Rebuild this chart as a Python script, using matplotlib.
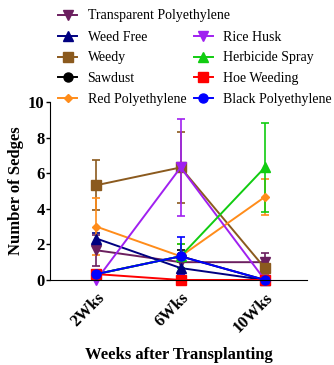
import numpy as np
import matplotlib.pyplot as plt
from matplotlib.lines import Line2D

plt.rcParams['font.family'] = ['Liberation Serif', 'DejaVu Serif']

# Weeks after transplanting
weeks = ['2Wks', '6Wks', '10Wks']

# mean number of sedges and error bars for each treatment
transparent = [1.67, 1.0, 1.0]
transparent_err = [0.88, 0.0, 0.5]
weed_free = [2.33, 0.67, 0.0]
weed_free_err = [0.33, 0.33, 0.0]
weedy = [5.33, 6.33, 0.67]
weedy_err = [1.4, 2.0, 0.33]
sawdust = [0.33, 1.33, 0.0]
sawdust_err = [0.0, 0.33, 0.0]
red_poly = [3.0, 1.33, 4.67]
red_poly_err = [1.6, 0.67, 1.0]
rice_husk = [0.0, 6.33, 0.0]
rice_husk_err = [0.0, 2.73, 0.0]
herbicide = [0.33, 1.33, 6.33]
herbicide_err = [0.0, 0.67, 2.5]
hoe = [0.33, 0.0, 0.0]
hoe_err = [0.0, 0.0, 0.0]
black_poly = [0.33, 1.33, 0.0]
black_poly_err = [0.0, 1.07, 0.0]

series = [
    ('Transparent Polyethylene', transparent, transparent_err, '#6B1F5F', 'v'),
    ('Weed Free', weed_free, weed_free_err, '#000080', '^'),
    ('Weedy', weedy, weedy_err, '#8B5A1E', 's'),
    ('Sawdust', sawdust, sawdust_err, 'black', 'o'),
    ('Red Polyethylene', red_poly, red_poly_err, '#FF8C1A', 'D'),
    ('Rice Husk', rice_husk, rice_husk_err, '#A020F0', 'v'),
    ('Herbicide Spray', herbicide, herbicide_err, '#11CC11', '^'),
    ('Hoe Weeding', hoe, hoe_err, '#FF0000', 's'),
    ('Black Polyethylene', black_poly, black_poly_err, '#0000FF', 'o'),
]

fig = plt.figure(figsize=(3.34, 3.65), dpi=100)
ax = fig.add_axes([0.15, 0.233, 0.769, 0.487])
x = np.arange(len(weeks))

handles = []
for name, vals, err, col, mk in series:
    ms = 4.5 if mk == 'D' else 6.5
    eb = ax.errorbar(x, vals, yerr=err, color=col, marker=mk, ms=ms, lw=1.4,
                     capsize=3, elinewidth=1.2, capthick=1.2)
    eb.lines[0].set_clip_on(False)
    handles.append(Line2D([], [], color=col, marker=mk, ms=ms, lw=1.4, label=name))

leg_kw = dict(frameon=False, fontsize=10, handlelength=1.35, handletextpad=0.75,
              labelspacing=0.56, borderaxespad=0.0, borderpad=0.0)
# first entry on its own row, the rest in two columns below it
fig.legend(handles=handles[:1], loc='upper left',
           bbox_to_anchor=(0.175, 0.974), **leg_kw)
fig.legend(handles=handles[1:], ncol=2, loc='upper left',
           bbox_to_anchor=(0.175, 0.916), columnspacing=0.55, **leg_kw)

ax.set_xlim(-0.55, 2.5)
ax.set_ylim(0, 10)
ax.set_yticks([0, 2, 4, 6, 8, 10])
ax.set_xticks(x)
ax.set_xticklabels(weeks, rotation=45, ha='right', rotation_mode='anchor',
                   fontsize=12, fontweight='bold')
for lab in ax.get_yticklabels():
    lab.set_fontweight('bold')
    lab.set_fontsize(12)
ax.tick_params(axis='x', length=0, pad=7)
ax.tick_params(axis='y', length=3, width=1, pad=1)
ax.spines['top'].set_visible(False)
ax.spines['right'].set_visible(False)
ax.set_ylabel('Number of Sedges', fontsize=12, fontweight='bold', labelpad=3)
ax.set_xlabel('Weeks after Transplanting', fontsize=12, fontweight='bold', labelpad=8)

plt.savefig('out.png', dpi=100)
